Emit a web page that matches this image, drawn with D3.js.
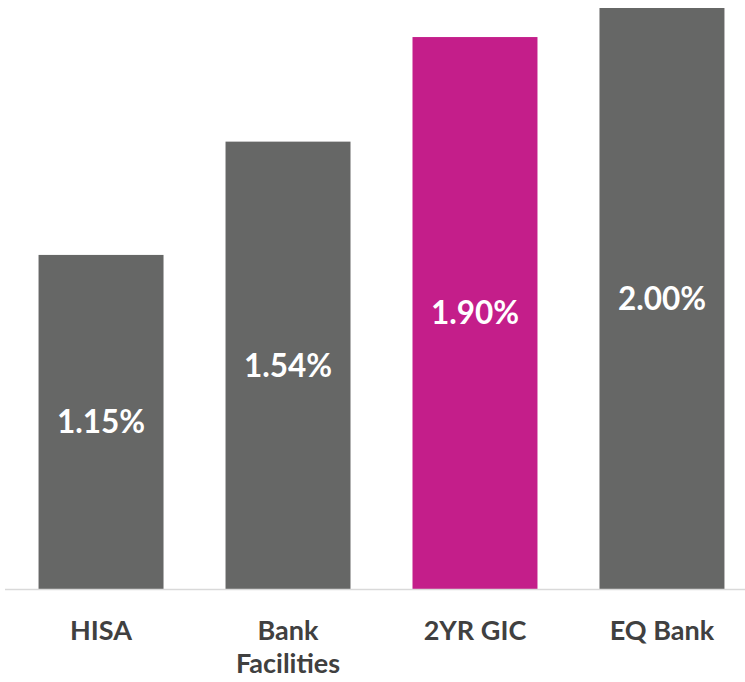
<!DOCTYPE html>
<html>
<head>
<meta charset="utf-8">
<script src="https://cdn.jsdelivr.net/npm/d3@7"></script>
<style>
  html, body { margin: 0; padding: 0; background: #fff; }
  svg { display: block; }
  text { font-family: Lato, "Open Sans", sans-serif; font-weight: bold; }
</style>
</head>
<body>
<svg id="chart" width="745" height="682"></svg>
<script>
// Rates compared across savings options
const categories = ["HISA", "Bank Facilities", "2YR GIC", "EQ Bank"];
const categoryLines = [["HISA"], ["Bank", "Facilities"], ["2YR GIC"], ["EQ Bank"]];
const rates = [1.15, 1.54, 1.90, 2.00];
const rateLabels = ["1.15%", "1.54%", "1.90%", "2.00%"];
const barColors = ["#666766", "#666766", "#c41e8a", "#666766"];

const width = 745, height = 682;
const margin = { top: 8, bottom: 93 };
const svg = d3.select("#chart");

const x = d3.scaleBand()
  .domain(categories)
  .range([9, 754])
  .paddingInner(0.3316)
  .paddingOuter(0.158);

const y = d3.scaleLinear()
  .domain([0, 2])
  .range([height - margin.bottom, margin.top]);

const data = categories.map((c, i) => ({ c, v: rates[i], label: rateLabels[i], color: barColors[i], lines: categoryLines[i] }));

// Bars
svg.append("g").selectAll("rect")
  .data(data)
  .join("rect")
  .attr("x", d => x(d.c))
  .attr("y", d => y(d.v))
  .attr("width", x.bandwidth())
  .attr("height", d => y(0) - y(d.v))
  .attr("fill", d => d.color);

// Baseline
svg.append("line")
  .attr("x1", 5).attr("x2", width)
  .attr("y1", y(0) + 0.5).attr("y2", y(0) + 0.5)
  .attr("stroke", "#d9d9d9").attr("stroke-width", 1.5);

// Value labels, centred inside each bar
svg.append("g").selectAll("text")
  .data(data)
  .join("text")
  .attr("x", d => x(d.c) + x.bandwidth() / 2)
  .attr("y", d => (y(d.v) + y(0)) / 2)
  .attr("dy", "0.36em")
  .attr("text-anchor", "middle")
  .attr("fill", "#ffffff")
  .attr("font-size", 31.5)
  .text(d => d.label);

// Category labels
const cat = svg.append("g").selectAll("text")
  .data(data)
  .join("text")
  .attr("x", d => x(d.c) + x.bandwidth() / 2)
  .attr("y", 640)
  .attr("text-anchor", "middle")
  .attr("fill", "#404040")
  .attr("font-size", 27);
cat.selectAll("tspan")
  .data(d => d.lines.map((t, i) => ({ t, i, xc: x(d.c) + x.bandwidth() / 2 })))
  .join("tspan")
  .attr("x", t => t.xc)
  .attr("dy", t => t.i === 0 ? 0 : 33)
  .text(t => t.t);
</script>
</body>
</html>
